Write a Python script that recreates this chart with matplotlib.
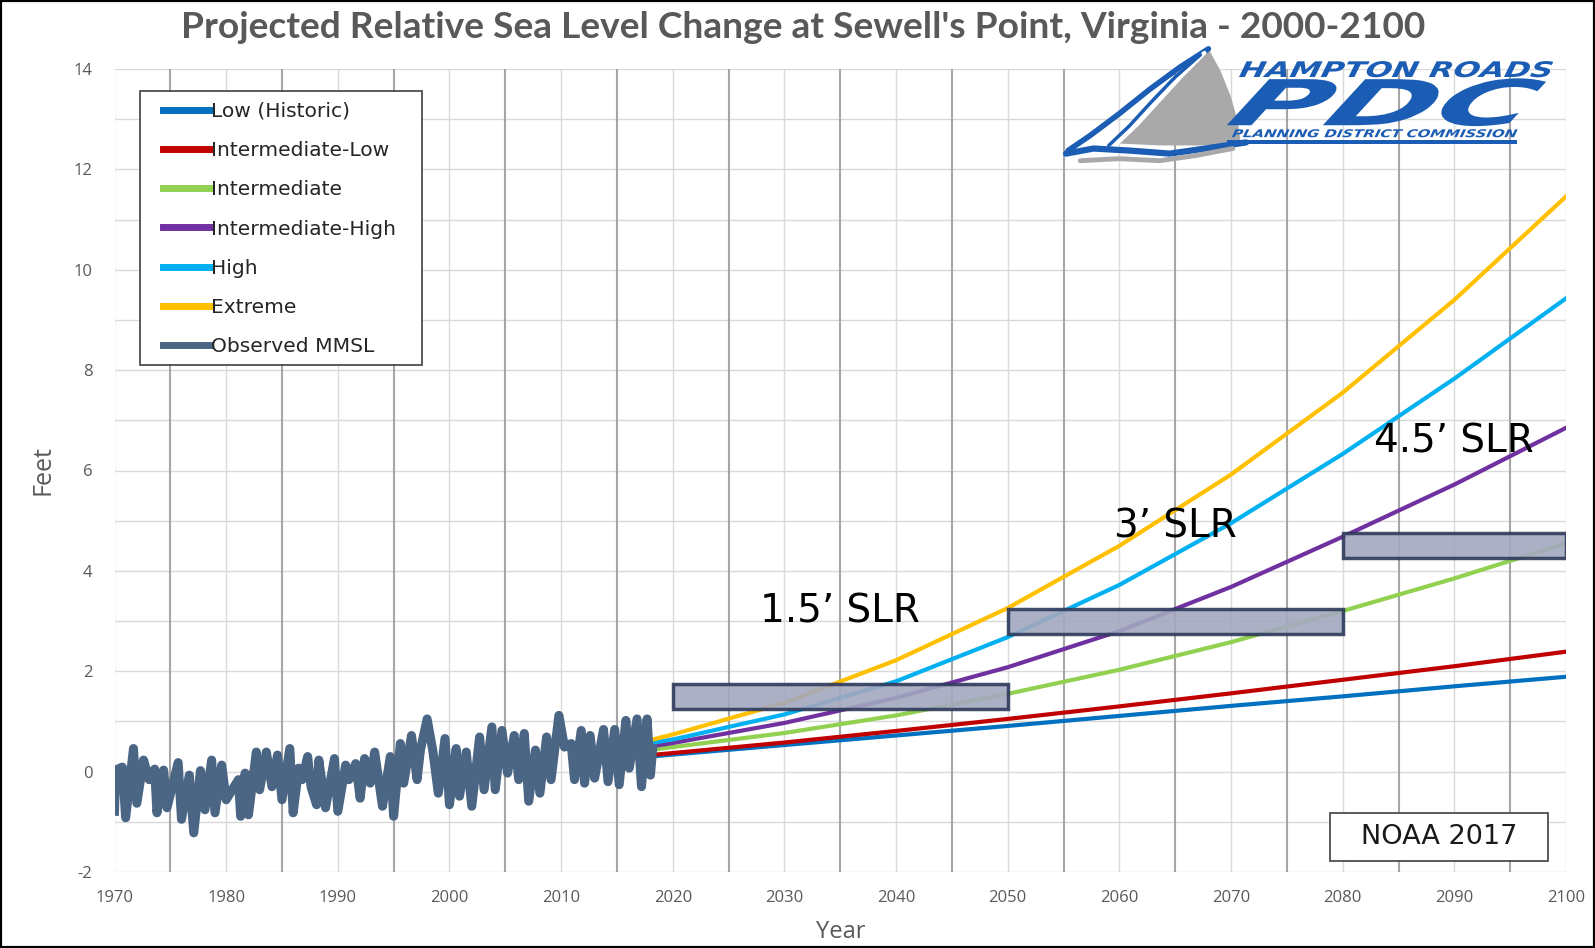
import matplotlib
matplotlib.use("Agg")
import matplotlib.pyplot as plt
from matplotlib.patches import Rectangle, PathPatch, Polygon
from matplotlib.textpath import TextPath
from matplotlib.font_manager import FontProperties
from matplotlib.transforms import Affine2D, IdentityTransform
from matplotlib.lines import Line2D

plt.rcParams["axes.unicode_minus"] = False

# projection years and scenarios (feet)
proj_years = [2018, 2020, 2030, 2040, 2050, 2060, 2070, 2080, 2090, 2100]
low_hist = [0.30, 0.34, 0.53, 0.72, 0.91, 1.11, 1.31, 1.50, 1.70, 1.89]
int_low = [0.33, 0.37, 0.58, 0.81, 1.05, 1.30, 1.56, 1.83, 2.10, 2.39]
intermediate = [0.43, 0.49, 0.77, 1.12, 1.55, 2.03, 2.58, 3.20, 3.85, 4.55]
int_high = [0.50, 0.57, 0.97, 1.47, 2.08, 2.80, 3.68, 4.68, 5.72, 6.85]
high = [0.57, 0.64, 1.14, 1.80, 2.68, 3.72, 4.95, 6.33, 7.83, 9.43]
extreme = [0.63, 0.74, 1.37, 2.22, 3.26, 4.50, 5.92, 7.55, 9.40, 11.46]

# observed mean monthly sea level (peaks and troughs)
obs_years = [1970.0, 1970.1, 1970.7, 1971.0, 1971.7, 1972.0, 1972.6, 1973.1, 1973.6, 1973.8,
             1974.4, 1974.7, 1975.7, 1976.0, 1976.7, 1977.1, 1977.7, 1978.1, 1978.7, 1979.0,
             1979.6, 1980.0, 1981.1, 1981.3, 1981.7, 1982.0, 1982.7, 1983.0, 1983.6, 1984.1,
             1984.6, 1985.0, 1985.7, 1986.0, 1986.5, 1986.8, 1987.3, 1987.6, 1988.1, 1988.3,
             1988.9, 1989.7, 1990.0, 1990.7, 1991.0, 1991.6, 1992.0, 1992.4, 1992.9, 1993.3,
             1994.0, 1994.7, 1995.0, 1995.6, 1995.9, 1996.6, 1997.1, 1997.4, 1998.0, 1998.5,
             1999.0, 1999.6, 2000.0, 2000.6, 2000.9, 2001.5, 2002.0, 2002.7, 2003.1, 2003.8,
             2004.1, 2004.7, 2005.2, 2005.8, 2006.2, 2006.7, 2007.1, 2007.7, 2008.1, 2008.7,
             2009.1, 2009.8, 2010.3, 2010.9, 2011.2, 2011.8, 2012.1, 2012.6, 2013.0, 2013.8,
             2014.2, 2014.8, 2015.2, 2015.8, 2016.1, 2016.8, 2017.2, 2017.7, 2018.0, 2018.2]
obs_feet = [-0.79, 0.03, 0.09, -0.92, 0.46, -0.63, 0.23, -0.16, 0.05, -0.82,
            0.03, -0.72, 0.18, -0.95, -0.07, -1.22, 0.02, -0.76, 0.23, -0.82,
            0.13, -0.56, -0.16, -0.89, -0.03, -0.86, 0.39, -0.36, 0.39, -0.30,
            0.33, -0.56, 0.46, -0.82, 0.07, -0.16, 0.30, -0.30, -0.66, 0.23,
            -0.72, 0.26, -0.79, 0.13, -0.16, 0.16, -0.53, 0.26, -0.23, 0.39,
            -0.69, 0.30, -0.89, 0.56, -0.23, 0.72, -0.16, 0.43, 1.05, 0.43,
            -0.43, 0.66, -0.66, 0.46, -0.49, 0.39, -0.69, 0.69, -0.36, 0.89,
            -0.36, 0.82, -0.03, 0.72, -0.16, 0.76, -0.59, 0.43, -0.43, 0.69,
            -0.16, 1.12, 0.49, 0.56, -0.16, 0.82, -0.23, 0.72, -0.13, 0.84,
            -0.20, 0.84, -0.26, 1.02, 0.07, 1.05, -0.30, 1.05, -0.07, 0.45]

# SLR threshold boxes: (start year, end year, level ft)
slr_start = [2020, 2050, 2080]
slr_end = [2050, 2080, 2100]
slr_level = [1.5, 3.0, 4.5]
slr_labels = ["1.5\u2019 SLR", "3\u2019 SLR", "4.5\u2019 SLR"]
slr_label_x = [2035, 2065, 2090]
slr_label_y = [3.2, 4.88, 6.58]

names = ["Low (Historic)", "Intermediate-Low", "Intermediate", "Intermediate-High",
         "High", "Extreme", "Observed MMSL"]
colors = ["#0070C0", "#C00000", "#92D050", "#7030A0", "#00B0F0", "#FFC000", "#4B6584"]

W, H = 1595, 948
K = W / 1568.0  # reference measurements were taken on a 1568 wide view
AX_L, AX_R, AX_T, AX_B = 114.5, 1566, 69, 872
fig = plt.figure(figsize=(W / 100, H / 100), dpi=100)
ax = fig.add_axes([AX_L / W, 1 - AX_B / H, (AX_R - AX_L) / W, (AX_B - AX_T) / H])


def ax_frac(x, y):
    # point measured on the 1568 view -> axes fraction
    return ((x * K - AX_L) / (AX_R - AX_L), 1 - (y * K - AX_T) / (AX_B - AX_T))


# grid: light lines every 1 ft and every 10 yrs, darker at the odd 5s
for yv in range(-2, 15):
    ax.axhline(yv, color="#D9D9D9", lw=1, zorder=0)
for xv in range(1970, 2101, 5):
    c = "#A6A6A6" if xv % 10 == 5 else "#D9D9D9"
    ax.axvline(xv, color=c, lw=1.5 if xv % 10 == 5 else 1, zorder=0)

series = [low_hist, int_low, intermediate, int_high, high, extreme]
for vals, c, n in zip(series, colors[:6], names[:6]):
    ax.plot(proj_years, vals, color=c, lw=3, label=n, zorder=3)
ax.plot(obs_years, obs_feet, color=colors[6], lw=6.5, label=names[6], zorder=4,
        solid_joinstyle="round")

for s, e, lv, lab, lx, ly in zip(slr_start, slr_end, slr_level, slr_labels, slr_label_x, slr_label_y):
    ax.add_patch(Rectangle((s, lv - 0.25), e - s, 0.5, facecolor="#A3A8BF", alpha=0.9,
                           edgecolor="#2E3A5C", lw=2.5, zorder=5))
    ax.text(lx, ly, lab, ha="center", va="center", fontsize=28, family="DejaVu Sans",
            color="black", zorder=6)

ax.set_xlim(1970, 2100)
ax.set_ylim(-2, 14)
ax.set_xticks(range(1970, 2101, 10))
ax.set_yticks(range(-2, 15, 2))
ax.tick_params(length=0, colors="#595959", labelsize=12)
ax.tick_params(axis="x", pad=13)
ax.tick_params(axis="y", pad=16)
for lb in ax.get_xticklabels() + ax.get_yticklabels():
    lb.set_family("Open Sans")
for sp in ax.spines.values():
    sp.set_visible(False)
ax.set_xlabel("Year", fontsize=17, color="#595959", family="Open Sans", labelpad=10)
ax.set_ylabel("Feet", fontsize=18, color="#595959", family="Open Sans", labelpad=13)

# legend: own frame, legend itself without frame
fx0, fy1 = ax_frac(138, 89)
fx1, fy0 = ax_frac(415, 359)
ax.add_patch(Rectangle((fx0, fy0), fx1 - fx0, fy1 - fy0, transform=ax.transAxes,
                       fc="white", ec="#404040", lw=1.2, zorder=7))
handles = [Line2D([0], [0], color=c, lw=5) for c in colors]
leg = ax.legend(handles, names, loc="upper left", bbox_to_anchor=ax_frac(160, 100),
                borderaxespad=0, prop=FontProperties(family="DejaVu Sans", size=14.6),
                frameon=False, handlelength=2.35, handletextpad=0.05, labelspacing=1.0,
                borderpad=0, labelcolor="#262626")
leg.set_zorder(8)

# NOAA source box
ax.add_patch(Rectangle((2078.9, -1.78), 19.5, 0.95, fc="white", ec="#404040", lw=1.2, zorder=7))
ax.text(2088.65, -1.30, "NOAA 2017", ha="center", va="center", fontsize=19.5,
        family="DejaVu Sans", color="#1A1A1A", zorder=8)

fig.text(0.5035, 1 - 28 / H, "Projected Relative Sea Level Change at Sewell's Point, Virginia - 2000-2100",
         ha="center", va="center", fontsize=26.7, fontweight="bold", family="Lato", color="#595959")


# ---- logo (display pixels, measured on the 1568 view, y from top) ----
def fit_text(s, x0, y0, x1, y1, color, skew=0, weight="bold", style="italic"):
    tp = TextPath((0, 0), s, size=100,
                  prop=FontProperties(family="DejaVu Sans", weight=weight, style=style))
    tp = Affine2D().skew_deg(skew, 0).transform_path(tp)
    bb = tp.get_extents()
    sx = (x1 - x0) * K / bb.width
    sy = (y1 - y0) * K / bb.height
    tr = Affine2D().translate(-bb.x0, -bb.y0).scale(sx, sy).translate(x0 * K, H - y1 * K)
    fig.patches.append(PathPatch(tr.transform_path(tp), fc=color, ec="none",
                                 transform=IdentityTransform(), figure=fig, zorder=20))


def px(x, y):
    return (x * K, H - y * K)


blue = "#1B5DB4"
grey = "#A9A9A9"
sail = [px(*p) for p in [(1188, 48), (1200, 70), (1210, 95), (1217, 120), (1220, 142),
                         (1180, 143), (1140, 143), (1098, 141), (1115, 125), (1138, 102),
                         (1160, 78), (1176, 60)]]
fig.patches.append(Polygon(sail, closed=True, fc=grey, ec="none",
                           transform=IdentityTransform(), figure=fig, zorder=19))
for pts, c, lw in [([(1050, 148), (1072, 133), (1100, 112), (1130, 88), (1160, 66), (1188, 48)], blue, 4),
                   ([(1098, 141), (1118, 122), (1140, 98), (1162, 74), (1184, 52)], "white", 3),
                   ([(1090, 143), (1110, 124), (1132, 100), (1155, 76), (1180, 54)], blue, 2.5),
                   ([(1048, 151), (1075, 146), (1110, 148), (1150, 151), (1185, 146), (1225, 140)], blue, 4.5),
                   ([(1062, 158), (1100, 156), (1140, 158), (1175, 153), (1212, 146)], grey, 3.5)]:
    xs, ys = zip(*[px(*p) for p in pts])
    fig.lines.append(Line2D(xs, ys, color=c, lw=lw, transform=IdentityTransform(),
                            figure=fig, zorder=21, solid_capstyle="round"))
fit_text("HAMPTON ROADS", 1218, 60, 1527, 76, blue, skew=8)
fit_text("PDC", 1206, 77, 1520, 124, blue, skew=14)
fit_text("PLANNING DISTRICT COMMISSION", 1211, 127, 1492, 135, blue, skew=8)
fig.patches.append(Rectangle((1206 * K, H - 142 * K), 285 * K, 4 * K, fc=blue, ec="none",
                             transform=IdentityTransform(), figure=fig, zorder=20))

fig.patches.append(Rectangle((0, 0), 1, 1, transform=fig.transFigure, fill=False,
                             ec="black", lw=3, figure=fig, zorder=30))

fig.savefig("out.png", dpi=100)
